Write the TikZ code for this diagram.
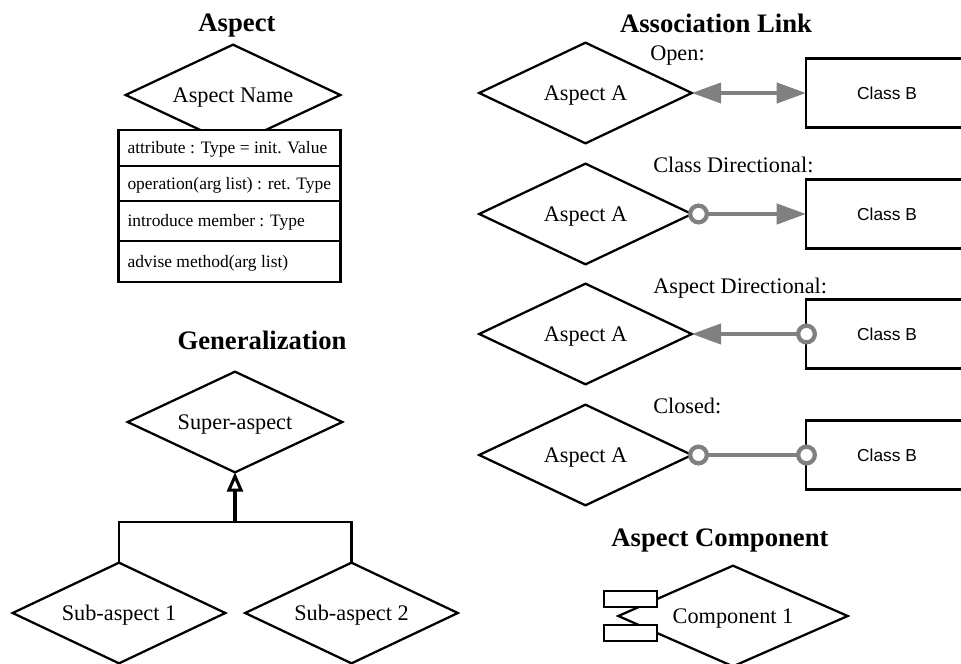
\documentclass[tikz,border=0pt]{standalone}
\usepackage{fontspec}
\setmainfont{Liberation Serif}
\newfontfamily\classfont{Liberation Sans}
\usetikzlibrary{arrows.meta,shapes.geometric}
\definecolor{linkgray}{RGB}{128,128,128}
\newcommand\dtext[1]{\makebox[0pt]{\raisebox{-5.25pt}[0pt][0pt]{#1}}}
\newcommand\rowtext[1]{\makebox[153pt][l]{\raisebox{-4.3pt}[0pt][0pt]{#1}}}
\tikzset{
  heading/.style={font=\fontsize{20}{22}\selectfont\bfseries,inner sep=0pt,anchor=base},
  caption/.style={font=\fontsize{16.7}{20}\selectfont,inner sep=0pt,anchor=base west},
  aspectnode/.style={draw,shape=diamond,line width=1.7pt,inner sep=0pt,outer sep=0pt,
    minimum width=159.5pt,minimum height=75.5pt,font=\fontsize{16.7}{20}\selectfont},
  rowbox/.style={draw,fill=white,line width=1.7pt,inner xsep=6.75pt,inner ysep=0pt,outer sep=0pt,
    font=\fontsize{13.1}{16}\selectfont},
  classbox/.style={draw,line width=1.7pt,inner sep=0pt,outer sep=0pt,
    minimum width=121.5pt,minimum height=51.75pt,font=\classfont\fontsize{13}{16}\selectfont},
  pinbox/.style={draw,fill=white,line width=1.5pt,inner sep=0pt,outer sep=0pt,
    minimum width=39.75pt,minimum height=12pt},
  linkend/.style={draw=linkgray,fill=white,shape=circle,line width=3.2pt,inner sep=0pt,outer sep=0pt,
    minimum size=12.5pt},
  link/.style={draw=linkgray,line width=3.2pt},
  linktip/.tip={Triangle[length=22pt,width=15pt,color=linkgray]},
  gentip/.tip={Triangle[open,fill=white,length=14.5pt,width=12pt]}
}
\begin{document}
\begin{tikzpicture}[x=.75pt,y=-.75pt]
  \useasboundingbox (0,0) rectangle (961,664);
  \clip (0,0) rectangle (961,664);
  \draw
    (237,31) node[heading] (aspecttitle){Aspect}
    (716,32) node[heading] (linktitle){Association Link}
    (262,349) node[heading] (gentitle){Generalization}
    (720,546) node[heading] (comptitle){Aspect Component}
    (650,60) node[caption] (opencap){Open:}
    (653,172) node[caption] (classcap){Class Directional:}
    (653,293) node[caption] (aspectcap){Aspect Directional:}
    (653,413) node[caption] (closedcap){Closed:};
  \draw
    (233,95) node[aspectnode,minimum width=161pt] (aspectname){\dtext{Aspect Name}}
    (229.5,148) node[rowbox,minimum height=27pt] (attrrow){\rowtext{attribute : Type = init. Value}}
    (229.5,183.5) node[rowbox,minimum height=26.25pt] (oprow){\rowtext{operation(arg list) : ret. Type}}
    (229.5,221) node[rowbox,minimum height=30pt] (introrow){\rowtext{introduce member : Type}}
    (229.5,261.5) node[rowbox,minimum height=30.75pt] (adviserow){\rowtext{advise method(arg list)}};
  \draw
    (235,422) node[aspectnode,minimum width=161pt] (super){\dtext{Super-aspect}}
    (119,613) node[aspectnode] (sub1){\dtext{Sub-aspect 1}}
    (351.5,613) node[aspectnode] (sub2){\dtext{Sub-aspect 2}};
  \coordinate (genjoin) at (235,522);
  \begin{scope}[line width=1.7pt]
    \draw (sub1.north) |- (genjoin);
    \draw (sub2.north) |- (genjoin);
  \end{scope}
  \draw[-{gentip},line width=2.3pt] (genjoin) to (super.south);
  \draw
    (585.5,93) node[aspectnode] (a1){\dtext{Aspect A}}
    (585.5,214) node[aspectnode] (a2){\dtext{Aspect A}}
    (585.5,334) node[aspectnode] (a3){\dtext{Aspect A}}
    (585.5,455) node[aspectnode] (a4){\dtext{Aspect A}};
  \draw
    (887,93) node[classbox] (b1){Class B}
    (887,214) node[classbox] (b2){Class B}
    (887,334) node[classbox] (b3){Class B}
    (887,455) node[classbox] (b4){Class B};
  \draw
    (698.5,214) node[linkend] (e2){}
    (806.5,334) node[linkend] (e3){}
    (698.5,455) node[linkend] (e4a){}
    (806.5,455) node[linkend] (e4b){};
  \begin{scope}[link]
    \draw[{linktip}-{linktip}] (a1.east) to (b1.west);
    \draw[-{linktip}] (e2) to (b2.west);
    \draw[-{linktip}] (e3) to (a3.east);
    \draw (e4a) to (e4b);
  \end{scope}
  \draw
    (733,616) node[aspectnode,minimum width=172pt] (comp){\dtext{Component 1}}
    (630.5,599) node[pinbox] (pin1){}
    (630.5,633) node[pinbox] (pin2){};
\end{tikzpicture}
\end{document}
